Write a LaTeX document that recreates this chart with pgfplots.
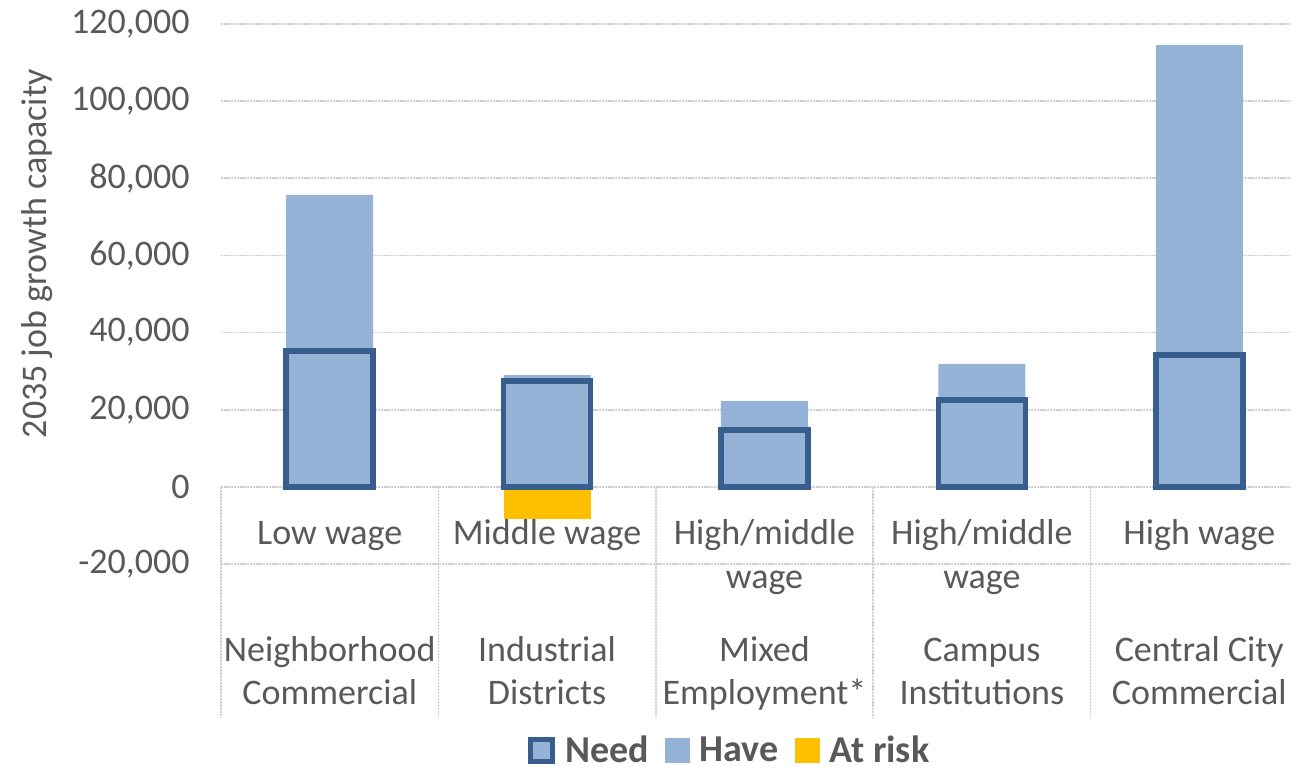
\documentclass[border=0pt]{standalone}
\usepackage{fontspec}
\setmainfont{Carlito}
\usepackage{pgfplots}
\pgfplotsset{compat=1.18}
\usetikzlibrary{calc}
\definecolor{havefill}{RGB}{149,179,215}
\definecolor{needline}{RGB}{56,94,141}
\definecolor{atrisk}{RGB}{255,192,0}
\definecolor{txt}{RGB}{89,89,89}
\definecolor{gridc}{RGB}{208,208,208}

\begin{document}
\begin{tikzpicture}[
  sep/.style={gridc, line width=0.8pt, dash pattern=on 1.2pt off 0.4pt},
  lab/.style={anchor=base, text=txt, inner sep=0pt, font=\fontsize{18}{21}\selectfont}]
\begin{axis}[
  scale only axis,
  width=543.5pt, height=270pt,
  xmin=-0.5, xmax=4.5,
  ymin=-20000, ymax=120000,
  ybar, bar width=43.5pt,
  xtick=\empty,
  scaled y ticks=false,
  ytick={-20000,0,20000,40000,60000,80000,100000,120000},
  yticklabels={{-20,000},{0},{20,000},{40,000},{60,000},{80,000},{100,000},{120,000}},
  yticklabel style={anchor=east, inner sep=0pt, xshift=-15.5pt, font=\fontsize{18}{21}\selectfont, text=txt},
  /pgf/number format/assume math mode=true,
  major tick length=0pt,
  axis line style={draw=none},
  ymajorgrids, grid style={sep},
  clip=false,
  legend columns=3,
  legend style={at={(0.468,-0.346)}, anchor=center, draw=none, fill=none,
    font=\bfseries\fontsize{19}{22}\selectfont, text=txt,
    nodes={inner sep=1pt},
    /tikz/every odd column/.append style={column sep=4pt},
    /tikz/every even column/.append style={column sep=7pt}},
  legend cell align=left,
]
\coordinate (O) at (rel axis cs:0,0);

% legend entries (in the reference's order)
\addlegendimage{legend image code/.code={\draw[fill=havefill, draw=needline, line width=2.6pt] (0pt,-5.5pt) rectangle (11pt,5.5pt);}}
\addlegendentry{Need}
\addlegendimage{legend image code/.code={\fill[havefill] (0pt,-6pt) rectangle (12pt,6pt);}}
\addlegendentry{Have}
\addlegendimage{legend image code/.code={\fill[atrisk] (0pt,-6pt) rectangle (12pt,6pt);}}
\addlegendentry{At risk}

% Have
\addplot[forget plot, bar shift=0pt, fill=havefill, draw=none]
  coordinates {(0,75700) (1,29000) (2,22300) (3,31900) (4,114500)};
% At risk
\addplot[forget plot, bar shift=0pt, fill=atrisk, draw=none]
  coordinates {(1,-8400)};
% Need
\addplot[forget plot, bar shift=0pt, fill=havefill, draw=needline, line width=2.75pt]
  coordinates {(0,35200) (1,27450) (2,14800) (3,22500) (4,34200)};

% category table lines
\draw[sep] (axis cs:-0.5,-20000) -- (axis cs:4.5,-20000);
\draw[sep] (axis cs:-0.5,0) -- (axis cs:-0.5,-59900);
\draw[sep] (axis cs:0.5,0) -- (axis cs:0.5,-59900);
\draw[sep] (axis cs:1.5,0) -- (axis cs:1.5,-59900);
\draw[sep] (axis cs:2.5,0) -- (axis cs:2.5,-59900);
\draw[sep] (axis cs:3.5,0) -- (axis cs:3.5,-59900);

% level 1 labels
\node[lab] at (axis cs:0,-15050) {Low wage};
\node[lab] at (axis cs:1,-15050) {Middle wage};
\node[lab] at (axis cs:2,-15050) {High/middle};
\node[lab] at (axis cs:3,-15050) {High/middle};
\node[lab] at (axis cs:4,-15050) {High wage};
\node[lab] at (axis cs:2,-26400) {wage};
\node[lab] at (axis cs:3,-26400) {wage};

% level 2 labels
\node[lab] at (axis cs:0,-45400) {Neighborhood};
\node[lab] at (axis cs:0,-56500) {Commercial};
\node[lab] at (axis cs:1,-45400) {Industrial};
\node[lab] at (axis cs:1,-56500) {Districts};
\node[lab] at (axis cs:2,-45400) {Mixed};
\node[lab] at (axis cs:2,-56500) {Employment*};
\node[lab] at (axis cs:3,-45400) {Campus};
\node[lab] at (axis cs:3,-56500) {Institutions};
\node[lab] at (axis cs:4,-45400) {Central City};
\node[lab] at (axis cs:4,-56500) {Commercial};

% y label
\node[xshift=-92pt, rotate=90, text=txt, inner sep=0pt, font=\fontsize{18}{21}\selectfont] at (axis cs:-0.5,60400) {2035 job growth capacity};
\end{axis}
\pgfresetboundingbox
\path ($(O)+(-110.5pt,-103.5pt)$) rectangle ($(O)+(535pt,282pt)$);
\end{tikzpicture}
\end{document}
